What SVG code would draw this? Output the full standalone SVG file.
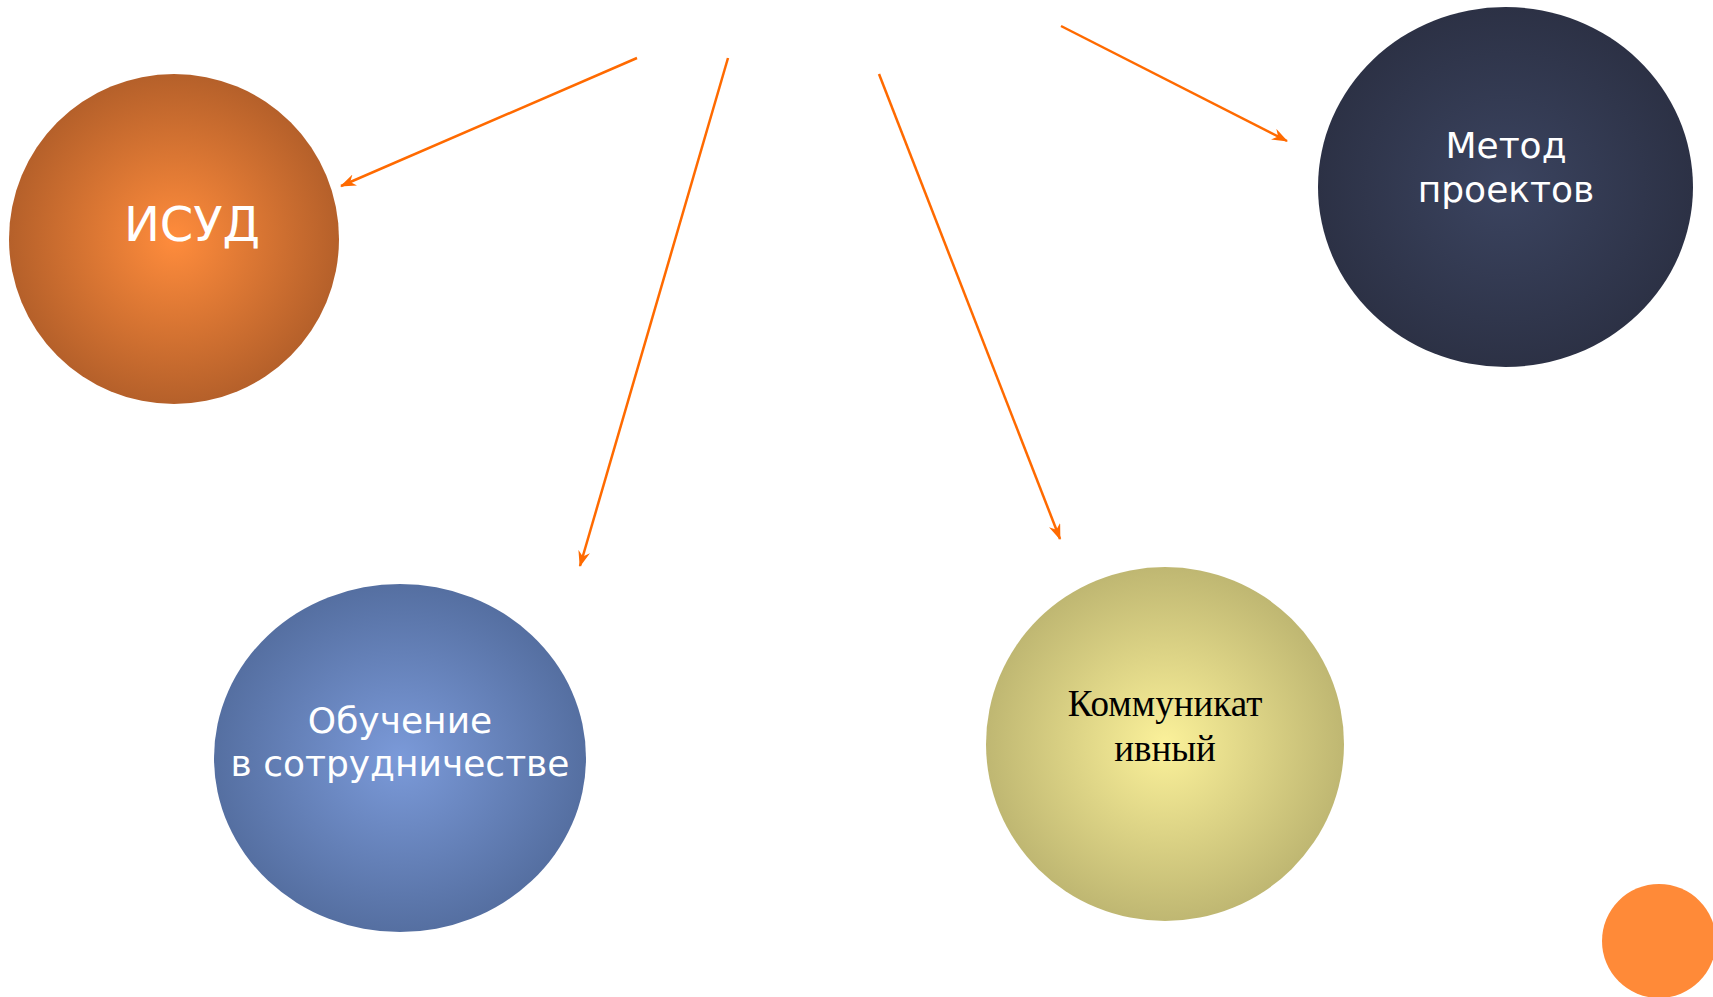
<svg xmlns="http://www.w3.org/2000/svg" width="1713" height="997" viewBox="0 0 1713 997">
<style>
.c{stroke:#FF6A00;stroke-width:2.5;fill:none;marker-end:url(#ah)}
.w{font-family:"DejaVu Sans",Verdana,sans-serif;fill:#FFFFFF;text-anchor:middle}
.b{font-family:"Liberation Serif","Times New Roman",serif;fill:#000000;text-anchor:middle}
</style>
<defs>
<marker id="ah" viewBox="0 0 16 12" refX="15" refY="6" markerWidth="16" markerHeight="12" markerUnits="userSpaceOnUse" orient="auto">
<path d="M0,0 L16,6 L0,12 L5,6 Z" fill="#FF6A00"/>
</marker>
<radialGradient id="gO" cx="50%" cy="50%" r="50%">
<stop offset="0" stop-color="#FF8C3C"/>
<stop offset="1" stop-color="#B5602A"/>
</radialGradient>
<radialGradient id="gN" cx="50%" cy="50%" r="50%">
<stop offset="0" stop-color="#3B4460"/>
<stop offset="1" stop-color="#2C3145"/>
</radialGradient>
<radialGradient id="gB" cx="50%" cy="50%" r="50%">
<stop offset="0" stop-color="#7B9AD9"/>
<stop offset="1" stop-color="#556FA1"/>
</radialGradient>
<radialGradient id="gY" cx="50%" cy="50%" r="50%">
<stop offset="0" stop-color="#FBF19A"/>
<stop offset="1" stop-color="#BFB772"/>
</radialGradient>
</defs>
<rect width="1713" height="997" fill="#FFFFFF"/>
<g id="connectors">
<line class="c" x1="637" y1="58" x2="341" y2="186"/>
<line class="c" x1="728" y1="58" x2="580" y2="566"/>
<line class="c" x1="879" y1="74" x2="1060" y2="539"/>
<line class="c" x1="1061" y1="26" x2="1287" y2="141"/>
</g>
<g id="isud">
<circle cx="174" cy="239" r="165" fill="url(#gO)"/>
<text class="w" x="192" y="241" font-size="48">ИСУД</text>
</g>
<g id="metod">
<ellipse cx="1505.5" cy="187" rx="187.5" ry="180" fill="url(#gN)"/>
<text class="w" x="1506" y="158" font-size="36">Метод</text>
<text class="w" x="1506" y="202" font-size="36">проектов</text>
</g>
<g id="obuchenie">
<ellipse cx="400" cy="758" rx="186" ry="174" fill="url(#gB)"/>
<text class="w" x="400" y="733" font-size="36">Обучение</text>
<text class="w" x="400" y="776" font-size="36">в сотрудничестве</text>
</g>
<g id="kommunikat">
<ellipse cx="1165" cy="744" rx="179" ry="177" fill="url(#gY)"/>
<text class="b" x="1165" y="716" font-size="37">Коммуникат</text>
<text class="b" x="1165" y="761" font-size="37">ивный</text>
</g>
<g id="dot">
<circle cx="1659" cy="941" r="57" fill="#FF8A38"/>
</g>
</svg>
